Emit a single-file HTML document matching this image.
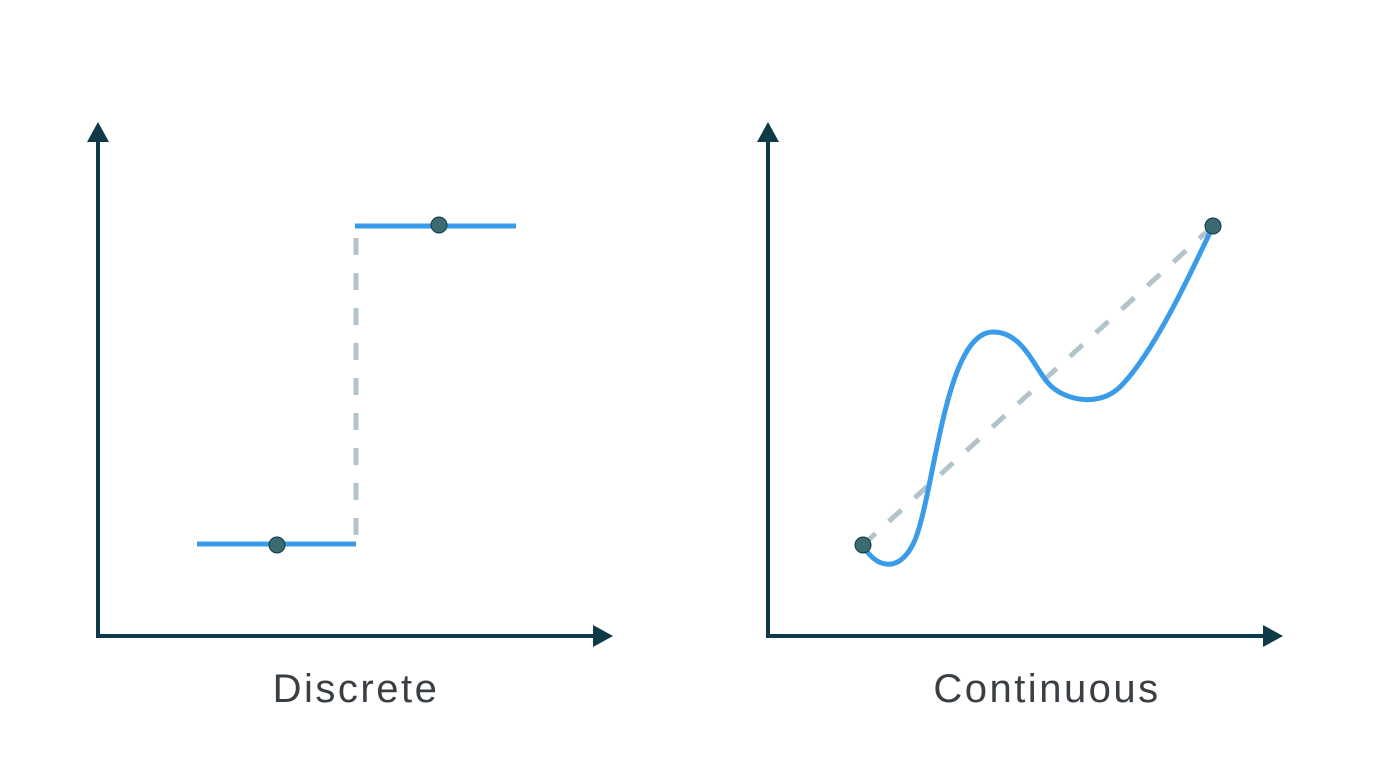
<!DOCTYPE html>
<html><head><meta charset="utf-8"><style>
html,body{margin:0;padding:0;background:#fff;}
svg{display:block;}
</style></head><body>
<svg width="1400" height="764" viewBox="0 0 1400 764" xmlns="http://www.w3.org/2000/svg">
<g stroke="#0e3a48" stroke-width="4" fill="none">
<line x1="98" y1="140" x2="98" y2="636"/>
<line x1="96" y1="636" x2="595" y2="636"/>
<line x1="768" y1="140" x2="768" y2="636"/>
<line x1="766" y1="636" x2="1265" y2="636"/>
</g>
<g fill="#0e3a48">
<polygon points="98,122 87,142 109,142"/>
<polygon points="613,636 593,625 593,647"/>
<polygon points="768,122 757,142 779,142"/>
<polygon points="1283,636 1263,625 1263,647"/>
</g>
<g stroke="#b3c3cb" stroke-width="5" fill="none" stroke-dasharray="17,18">
<line x1="356" y1="238" x2="356" y2="544"/>
<line x1="863" y1="545" x2="1213" y2="226"/>
</g>
<g stroke="#3a9be8" stroke-width="5" fill="none">
<line x1="197" y1="544" x2="356" y2="544"/>
<line x1="355" y1="226" x2="516" y2="226"/>
<path d="M863,545 C875,568 900,575 915,540 C935,490 945,332 993,332 C1025,332 1035,372 1052,387 C1067,400 1100,408 1122,385 C1155,350 1190,275 1213,226" stroke-linecap="round"/>
</g>
<g fill="#3b6a70" stroke="#0e3a48" stroke-width="1">
<circle cx="277" cy="545" r="8"/>
<circle cx="439" cy="225" r="8"/>
<circle cx="863" cy="545" r="8"/>
<circle cx="1213" cy="226" r="8"/>
</g>
<g font-family="Liberation Sans, sans-serif" font-size="40" fill="#3a3f44" text-anchor="middle" letter-spacing="2.5">
<text x="356" y="702">Discrete</text>
<text x="1047" y="702">Continuous</text>
</g>
</svg>
</body></html>
